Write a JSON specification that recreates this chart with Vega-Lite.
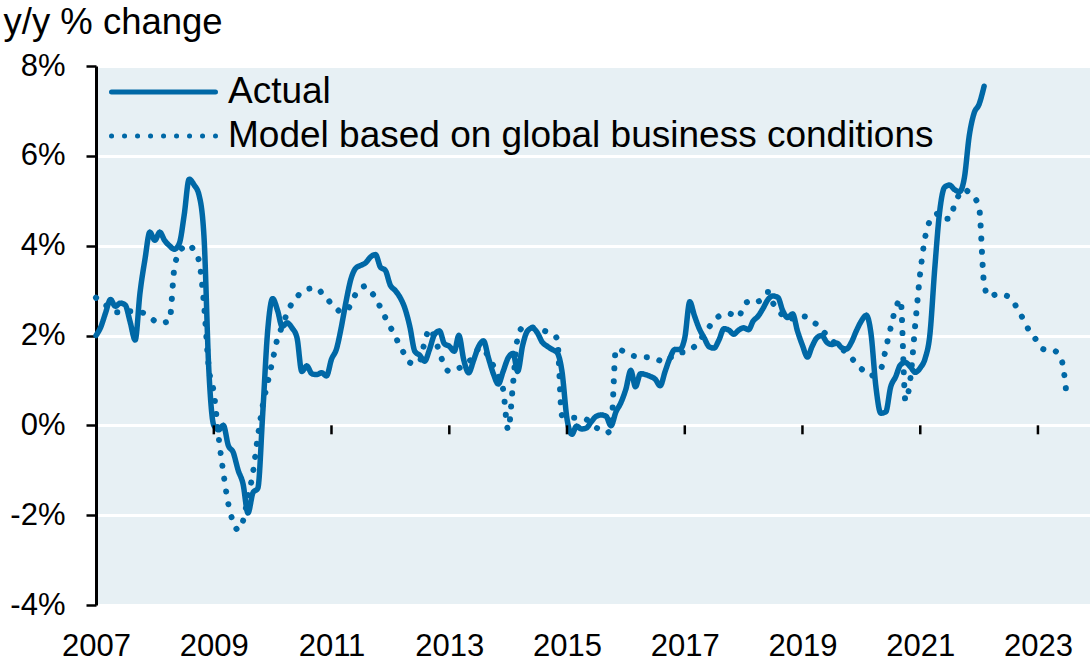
{
  "$schema": "https://vega.github.io/schema/vega-lite/v6.json",
  "width": 994,
  "height": 539,
  "autosize": {"type": "none"},
  "padding": {"left": 96, "top": 66, "right": 0, "bottom": 58},
  "background": "white",
  "config": {
    "font": "Liberation Sans",
    "view": {"fill": "#e7f0f4", "stroke": null}
  },
  "datasets": {
    "actual": [
      {"date":"2007-01-01","value":2.0},{"date":"2007-02-01","value":2.2},{"date":"2007-03-01","value":2.5},{"date":"2007-04-01","value":2.8},{"date":"2007-05-01","value":2.65},{"date":"2007-06-01","value":2.72},{"date":"2007-07-01","value":2.68},{"date":"2007-08-01","value":2.3},{"date":"2007-09-01","value":1.9},{"date":"2007-10-01","value":2.95},{"date":"2007-11-01","value":3.7},{"date":"2007-12-01","value":4.3},
      {"date":"2008-01-01","value":4.12},{"date":"2008-02-01","value":4.3},{"date":"2008-03-01","value":4.12},{"date":"2008-04-01","value":4.0},{"date":"2008-05-01","value":3.92},{"date":"2008-06-01","value":4.05},{"date":"2008-07-01","value":4.68},{"date":"2008-08-01","value":5.48},{"date":"2008-09-01","value":5.35},{"date":"2008-10-01","value":5.13},{"date":"2008-11-01","value":4.2},{"date":"2008-12-01","value":1.24},
      {"date":"2009-01-01","value":0.0},{"date":"2009-02-01","value":-0.1},{"date":"2009-03-01","value":0.0},{"date":"2009-04-01","value":-0.45},{"date":"2009-05-01","value":-0.6},{"date":"2009-06-01","value":-1.0},{"date":"2009-07-01","value":-1.3},{"date":"2009-08-01","value":-1.95},{"date":"2009-09-01","value":-1.5},{"date":"2009-10-01","value":-1.4},{"date":"2009-11-01","value":0.3},{"date":"2009-12-01","value":2.1},
      {"date":"2010-01-01","value":2.82},{"date":"2010-02-01","value":2.55},{"date":"2010-03-01","value":2.2},{"date":"2010-04-01","value":2.28},{"date":"2010-05-01","value":2.17},{"date":"2010-06-01","value":1.95},{"date":"2010-07-01","value":1.2},{"date":"2010-08-01","value":1.32},{"date":"2010-09-01","value":1.15},{"date":"2010-10-01","value":1.13},{"date":"2010-11-01","value":1.17},{"date":"2010-12-01","value":1.1},
      {"date":"2011-01-01","value":1.47},{"date":"2011-02-01","value":1.7},{"date":"2011-03-01","value":2.15},{"date":"2011-04-01","value":2.75},{"date":"2011-05-01","value":3.25},{"date":"2011-06-01","value":3.5},{"date":"2011-07-01","value":3.56},{"date":"2011-08-01","value":3.62},{"date":"2011-09-01","value":3.75},{"date":"2011-10-01","value":3.8},{"date":"2011-11-01","value":3.52},{"date":"2011-12-01","value":3.45},
      {"date":"2012-01-01","value":3.12},{"date":"2012-02-01","value":3.0},{"date":"2012-03-01","value":2.85},{"date":"2012-04-01","value":2.6},{"date":"2012-05-01","value":2.2},{"date":"2012-06-01","value":1.65},{"date":"2012-07-01","value":1.56},{"date":"2012-08-01","value":1.43},{"date":"2012-09-01","value":1.7},{"date":"2012-10-01","value":2.02},{"date":"2012-11-01","value":2.1},{"date":"2012-12-01","value":1.82},
      {"date":"2013-01-01","value":1.76},{"date":"2013-02-01","value":1.65},{"date":"2013-03-01","value":2.0},{"date":"2013-04-01","value":1.45},{"date":"2013-05-01","value":1.17},{"date":"2013-06-01","value":1.45},{"date":"2013-07-01","value":1.75},{"date":"2013-08-01","value":1.88},{"date":"2013-09-01","value":1.5},{"date":"2013-10-01","value":1.15},{"date":"2013-11-01","value":0.92},{"date":"2013-12-01","value":1.2},
      {"date":"2014-01-01","value":1.5},{"date":"2014-02-01","value":1.6},{"date":"2014-03-01","value":1.2},{"date":"2014-04-01","value":1.78},{"date":"2014-05-01","value":2.1},{"date":"2014-06-01","value":2.17},{"date":"2014-07-01","value":2.06},{"date":"2014-08-01","value":1.85},{"date":"2014-09-01","value":1.76},{"date":"2014-10-01","value":1.69},{"date":"2014-11-01","value":1.62},{"date":"2014-12-01","value":1.2},
      {"date":"2015-01-01","value":0.15},{"date":"2015-02-01","value":-0.2},{"date":"2015-03-01","value":-0.02},{"date":"2015-04-01","value":-0.08},{"date":"2015-05-01","value":-0.06},{"date":"2015-06-01","value":0.08},{"date":"2015-07-01","value":0.2},{"date":"2015-08-01","value":0.23},{"date":"2015-09-01","value":0.2},{"date":"2015-10-01","value":-0.01},{"date":"2015-11-01","value":0.3},{"date":"2015-12-01","value":0.5},
      {"date":"2016-01-01","value":0.8},{"date":"2016-02-01","value":1.22},{"date":"2016-03-01","value":0.86},{"date":"2016-04-01","value":1.15},{"date":"2016-05-01","value":1.13},{"date":"2016-06-01","value":1.09},{"date":"2016-07-01","value":1.03},{"date":"2016-08-01","value":0.88},{"date":"2016-09-01","value":1.2},{"date":"2016-10-01","value":1.5},{"date":"2016-11-01","value":1.69},{"date":"2016-12-01","value":1.69},
      {"date":"2017-01-01","value":1.95},{"date":"2017-02-01","value":2.75},{"date":"2017-03-01","value":2.45},{"date":"2017-04-01","value":2.15},{"date":"2017-05-01","value":1.95},{"date":"2017-06-01","value":1.75},{"date":"2017-07-01","value":1.72},{"date":"2017-08-01","value":1.9},{"date":"2017-09-01","value":2.15},{"date":"2017-10-01","value":2.12},{"date":"2017-11-01","value":2.03},{"date":"2017-12-01","value":2.12},
      {"date":"2018-01-01","value":2.17},{"date":"2018-02-01","value":2.13},{"date":"2018-03-01","value":2.32},{"date":"2018-04-01","value":2.43},{"date":"2018-05-01","value":2.6},{"date":"2018-06-01","value":2.8},{"date":"2018-07-01","value":2.88},{"date":"2018-08-01","value":2.85},{"date":"2018-09-01","value":2.55},{"date":"2018-10-01","value":2.4},{"date":"2018-11-01","value":2.48},{"date":"2018-12-01","value":2.1},
      {"date":"2019-01-01","value":1.78},{"date":"2019-02-01","value":1.52},{"date":"2019-03-01","value":1.75},{"date":"2019-04-01","value":1.95},{"date":"2019-05-01","value":2.0},{"date":"2019-06-01","value":1.85},{"date":"2019-07-01","value":1.8},{"date":"2019-08-01","value":1.83},{"date":"2019-09-01","value":1.73},{"date":"2019-10-01","value":1.7},{"date":"2019-11-01","value":1.85},{"date":"2019-12-01","value":2.1},
      {"date":"2020-01-01","value":2.32},{"date":"2020-02-01","value":2.45},{"date":"2020-03-01","value":2.05},{"date":"2020-04-01","value":0.85},{"date":"2020-05-01","value":0.27},{"date":"2020-06-01","value":0.3},{"date":"2020-07-01","value":0.85},{"date":"2020-08-01","value":1.08},{"date":"2020-09-01","value":1.35},{"date":"2020-10-01","value":1.4},{"date":"2020-11-01","value":1.3},{"date":"2020-12-01","value":1.18},
      {"date":"2021-01-01","value":1.28},{"date":"2021-02-01","value":1.5},{"date":"2021-03-01","value":2.0},{"date":"2021-04-01","value":3.5},{"date":"2021-05-01","value":4.75},{"date":"2021-06-01","value":5.3},{"date":"2021-07-01","value":5.35},{"date":"2021-08-01","value":5.25},{"date":"2021-09-01","value":5.2},{"date":"2021-10-01","value":5.5},{"date":"2021-11-01","value":6.45},{"date":"2021-12-01","value":6.95},
      {"date":"2022-01-01","value":7.15},{"date":"2022-02-01","value":7.55}
    ],
    "model": [
      {"date":"2007-01-01","value":2.84},{"date":"2007-02-01","value":2.75},{"date":"2007-03-01","value":2.68},{"date":"2007-04-01","value":2.6},{"date":"2007-05-01","value":2.52},{"date":"2007-06-01","value":2.52},{"date":"2007-07-01","value":2.53},{"date":"2007-08-01","value":2.54},{"date":"2007-09-01","value":2.54},{"date":"2007-10-01","value":2.52},{"date":"2007-11-01","value":2.49},{"date":"2007-12-01","value":2.42},
      {"date":"2008-01-01","value":2.32},{"date":"2008-02-01","value":2.28},{"date":"2008-03-01","value":2.29},{"date":"2008-04-01","value":2.33},{"date":"2008-05-01","value":3.5},{"date":"2008-06-01","value":3.85},{"date":"2008-07-01","value":3.98},{"date":"2008-08-01","value":4.02},{"date":"2008-09-01","value":3.88},{"date":"2008-10-01","value":3.66},{"date":"2008-11-01","value":2.7},{"date":"2008-12-01","value":1.28},
      {"date":"2009-01-01","value":0.73},{"date":"2009-02-01","value":-0.3},{"date":"2009-03-01","value":-1.05},{"date":"2009-04-01","value":-1.75},{"date":"2009-05-01","value":-2.15},{"date":"2009-06-01","value":-2.33},{"date":"2009-07-01","value":-2.13},{"date":"2009-08-01","value":-1.6},{"date":"2009-09-01","value":-1.05},{"date":"2009-10-01","value":-0.25},{"date":"2009-11-01","value":0.45},{"date":"2009-12-01","value":0.95},
      {"date":"2010-01-01","value":1.45},{"date":"2010-02-01","value":1.95},{"date":"2010-03-01","value":2.2},{"date":"2010-04-01","value":2.5},{"date":"2010-05-01","value":2.72},{"date":"2010-06-01","value":2.86},{"date":"2010-07-01","value":2.97},{"date":"2010-08-01","value":3.03},{"date":"2010-09-01","value":3.05},{"date":"2010-10-01","value":3.06},{"date":"2010-11-01","value":2.95},{"date":"2010-12-01","value":2.84},
      {"date":"2011-01-01","value":2.7},{"date":"2011-02-01","value":2.6},{"date":"2011-03-01","value":2.52},{"date":"2011-04-01","value":2.55},{"date":"2011-05-01","value":2.69},{"date":"2011-06-01","value":2.93},{"date":"2011-07-01","value":3.05},{"date":"2011-08-01","value":3.1},{"date":"2011-09-01","value":2.98},{"date":"2011-10-01","value":2.84},{"date":"2011-11-01","value":2.62},{"date":"2011-12-01","value":2.4},
      {"date":"2012-01-01","value":2.19},{"date":"2012-02-01","value":1.98},{"date":"2012-03-01","value":1.76},{"date":"2012-04-01","value":1.57},{"date":"2012-05-01","value":1.4},{"date":"2012-06-01","value":1.36},{"date":"2012-07-01","value":1.42},{"date":"2012-08-01","value":1.85},{"date":"2012-09-01","value":2.15},{"date":"2012-10-01","value":1.95},{"date":"2012-11-01","value":1.63},{"date":"2012-12-01","value":1.33},
      {"date":"2013-01-01","value":1.2},{"date":"2013-02-01","value":1.22},{"date":"2013-03-01","value":1.27},{"date":"2013-04-01","value":1.33},{"date":"2013-05-01","value":1.42},{"date":"2013-06-01","value":1.52},{"date":"2013-07-01","value":1.7},{"date":"2013-08-01","value":1.72},{"date":"2013-09-01","value":1.5},{"date":"2013-10-01","value":1.33},{"date":"2013-11-01","value":1.1},{"date":"2013-12-01","value":0.8},
      {"date":"2014-01-01","value":-0.1},{"date":"2014-02-01","value":0.95},{"date":"2014-03-01","value":1.95},{"date":"2014-04-01","value":2.18},{"date":"2014-05-01","value":2.2},{"date":"2014-06-01","value":2.18},{"date":"2014-07-01","value":2.15},{"date":"2014-08-01","value":2.12},{"date":"2014-09-01","value":2.08},{"date":"2014-10-01","value":2.03},{"date":"2014-11-01","value":1.93},{"date":"2014-12-01","value":0.22},
      {"date":"2015-01-01","value":0.18},{"date":"2015-02-01","value":0.17},{"date":"2015-03-01","value":0.17},{"date":"2015-04-01","value":0.15},{"date":"2015-05-01","value":0.13},{"date":"2015-06-01","value":0.05},{"date":"2015-07-01","value":-0.05},{"date":"2015-08-01","value":-0.1},{"date":"2015-09-01","value":-0.17},{"date":"2015-10-01","value":-0.1},{"date":"2015-11-01","value":1.7},{"date":"2015-12-01","value":1.68},
      {"date":"2016-01-01","value":1.6},{"date":"2016-02-01","value":1.56},{"date":"2016-03-01","value":1.54},{"date":"2016-04-01","value":1.53},{"date":"2016-05-01","value":1.52},{"date":"2016-06-01","value":1.51},{"date":"2016-07-01","value":1.49},{"date":"2016-08-01","value":1.44},{"date":"2016-09-01","value":1.42},{"date":"2016-10-01","value":1.5},{"date":"2016-11-01","value":1.58},{"date":"2016-12-01","value":1.62},
      {"date":"2017-01-01","value":1.63},{"date":"2017-02-01","value":1.69},{"date":"2017-03-01","value":1.75},{"date":"2017-04-01","value":1.88},{"date":"2017-05-01","value":2.03},{"date":"2017-06-01","value":2.19},{"date":"2017-07-01","value":2.32},{"date":"2017-08-01","value":2.43},{"date":"2017-09-01","value":2.47},{"date":"2017-10-01","value":2.49},{"date":"2017-11-01","value":2.45},{"date":"2017-12-01","value":2.41},
      {"date":"2018-01-01","value":2.68},{"date":"2018-02-01","value":2.76},{"date":"2018-03-01","value":2.8},{"date":"2018-04-01","value":2.76},{"date":"2018-05-01","value":2.85},{"date":"2018-06-01","value":2.97},{"date":"2018-07-01","value":2.73},{"date":"2018-08-01","value":2.56},{"date":"2018-09-01","value":2.45},{"date":"2018-10-01","value":2.36},{"date":"2018-11-01","value":2.38},{"date":"2018-12-01","value":2.41},
      {"date":"2019-01-01","value":2.43},{"date":"2019-02-01","value":2.4},{"date":"2019-03-01","value":2.32},{"date":"2019-04-01","value":2.24},{"date":"2019-05-01","value":2.12},{"date":"2019-06-01","value":2.01},{"date":"2019-07-01","value":1.9},{"date":"2019-08-01","value":1.8},{"date":"2019-09-01","value":1.71},{"date":"2019-10-01","value":1.61},{"date":"2019-11-01","value":1.5},{"date":"2019-12-01","value":1.38},
      {"date":"2020-01-01","value":1.26},{"date":"2020-02-01","value":1.18},{"date":"2020-03-01","value":1.1},{"date":"2020-04-01","value":1.17},{"date":"2020-05-01","value":1.25},{"date":"2020-06-01","value":1.7},{"date":"2020-07-01","value":2.17},{"date":"2020-08-01","value":2.6},{"date":"2020-09-01","value":2.8},{"date":"2020-10-01","value":0.55},{"date":"2020-11-01","value":1.05},{"date":"2020-12-01","value":2.25},
      {"date":"2021-01-01","value":3.4},{"date":"2021-02-01","value":4.2},{"date":"2021-03-01","value":4.55},{"date":"2021-04-01","value":4.68},{"date":"2021-05-01","value":4.72},{"date":"2021-06-01","value":4.6},{"date":"2021-07-01","value":4.6},{"date":"2021-08-01","value":4.9},{"date":"2021-09-01","value":5.15},{"date":"2021-10-01","value":5.25},{"date":"2021-11-01","value":5.18},{"date":"2021-12-01","value":5.08},
      {"date":"2022-01-01","value":4.85},{"date":"2022-02-01","value":3.15},{"date":"2022-03-01","value":2.87},{"date":"2022-04-01","value":2.9},{"date":"2022-05-01","value":2.93},{"date":"2022-06-01","value":2.9},{"date":"2022-07-01","value":2.87},{"date":"2022-08-01","value":2.75},{"date":"2022-09-01","value":2.56},{"date":"2022-10-01","value":2.37},{"date":"2022-11-01","value":2.15},{"date":"2022-12-01","value":2.0},
      {"date":"2023-01-01","value":1.85},{"date":"2023-02-01","value":1.7},{"date":"2023-03-01","value":1.67},{"date":"2023-04-01","value":1.67},{"date":"2023-05-01","value":1.62},{"date":"2023-06-01","value":1.4},{"date":"2023-07-01","value":0.55}
    ],
    "ticks": [
      {"date":"2009-01-01"},{"date":"2011-01-01"},{"date":"2013-01-01"},{"date":"2015-01-01"},{"date":"2017-01-01"},{"date":"2019-01-01"},{"date":"2021-01-01"},{"date":"2023-01-01"}
    ]
  },
  "layer": [
    {
      "data": {"name": "model"},
      "mark": {"type": "line", "strokeWidth": 6, "strokeCap": "round", "interpolate": "monotone"},
      "encoding": {
        "x": {
          "field": "date", "type": "temporal",
          "scale": {"type": "utc", "domain": [{"year": 2007, "month": 1, "date": 1, "utc": true}, {"year": 2023, "month": 11, "date": 20, "utc": true}]},
          "axis": {
            "title": null,
            "values": [{"year": 2007, "month": 1, "date": 1, "utc": true}, {"year": 2009, "month": 1, "date": 1, "utc": true}, {"year": 2011, "month": 1, "date": 1, "utc": true}, {"year": 2013, "month": 1, "date": 1, "utc": true}, {"year": 2015, "month": 1, "date": 1, "utc": true}, {"year": 2017, "month": 1, "date": 1, "utc": true}, {"year": 2019, "month": 1, "date": 1, "utc": true}, {"year": 2021, "month": 1, "date": 1, "utc": true}, {"year": 2023, "month": 1, "date": 1, "utc": true}],
            "format": "%Y",
            "domain": false, "ticks": false, "tickSize": 0, "grid": false,
            "labelFlush": false, "labelFontSize": 31, "labelColor": "black",
            "labelBaseline": "alphabetic", "labelPadding": 50
          }
        },
        "y": {
          "field": "value", "type": "quantitative",
          "scale": {"domain": [-4, 8], "nice": false},
          "axis": {
            "title": "y/y % change",
            "titleAngle": 0, "titleAlign": "left", "titleBaseline": "alphabetic",
            "titleX": -93, "titleY": -33, "titleFontSize": 36.5, "titleFontWeight": "normal", "titleColor": "black",
            "values": [-4, -2, 0, 2, 4, 6, 8],
            "labelExpr": "datum.value + '%'",
            "labelFontSize": 31, "labelColor": "black", "labelPadding": 21,
            "domainColor": "black", "domainWidth": 3,
            "tickColor": "black", "tickWidth": 2.5, "tickSize": 10,
            "grid": true, "gridColor": "white", "gridWidth": 3
          }
        },
        "color": {
          "datum": "Model based on global business conditions",
          "scale": {"domain": ["Actual", "Model based on global business conditions"], "range": ["#0068a6", "#0068a6"]},
          "legend": {
            "orient": "none", "legendX": 13, "legendY": 11, "direction": "vertical", "title": null,
            "symbolType": "stroke", "symbolSize": 10816, "symbolStrokeWidth": 5, "clipHeight": 30, "rowPadding": 7,
            "labelFontSize": 37, "labelColor": "black", "labelOffset": 10, "labelLimit": 1000,
            "encode": {"symbols": {"update": {"strokeCap": {"value": "round"}}}}
          }
        },
        "strokeDash": {
          "datum": "Model based on global business conditions",
          "scale": {"domain": ["Actual", "Model based on global business conditions"], "range": [[1, 0], [0.1, 12.9]]},
          "legend": {
            "orient": "none", "legendX": 13, "legendY": 11, "direction": "vertical", "title": null,
            "symbolType": "stroke", "symbolSize": 10816, "symbolStrokeWidth": 5, "clipHeight": 30, "rowPadding": 7,
            "labelFontSize": 37, "labelColor": "black", "labelOffset": 10, "labelLimit": 1000,
            "encode": {"symbols": {"update": {"strokeCap": {"value": "round"}}}}
          }
        }
      }
    },
    {
      "data": {"name": "actual"},
      "mark": {"type": "line", "strokeWidth": 5.5, "strokeCap": "round", "strokeJoin": "round", "interpolate": "monotone"},
      "encoding": {
        "x": {"field": "date", "type": "temporal"},
        "y": {"field": "value", "type": "quantitative"},
        "color": {"datum": "Actual"},
        "strokeDash": {"datum": "Actual"}
      }
    },
    {
      "mark": {"type": "rule", "color": "black", "strokeWidth": 3},
      "encoding": {"y": {"datum": 0}}
    },
    {
      "data": {"name": "ticks"},
      "mark": {"type": "rule", "color": "black", "strokeWidth": 2.5},
      "encoding": {
        "x": {"field": "date", "type": "temporal"},
        "y": {"datum": 0},
        "y2": {"datum": -0.2}
      }
    }
  ]
}
